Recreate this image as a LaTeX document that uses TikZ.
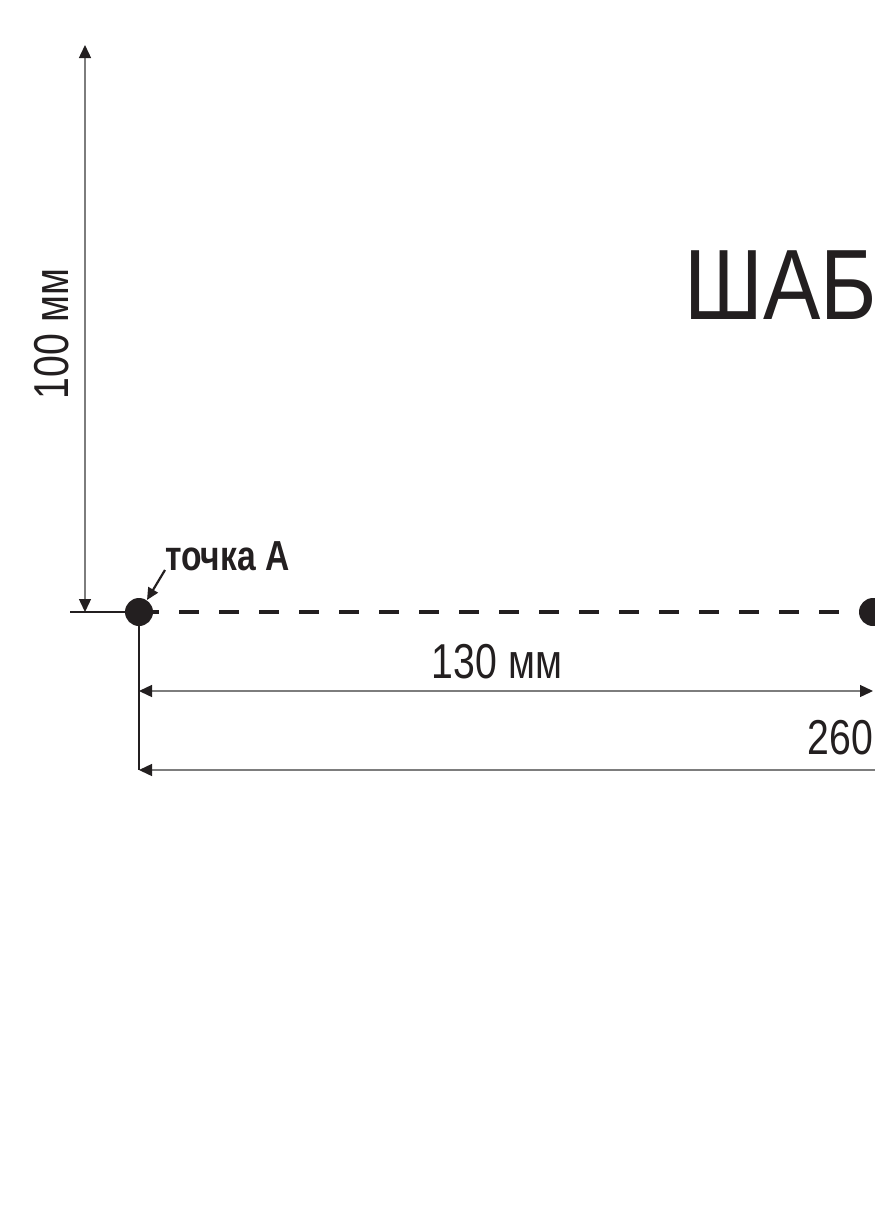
\documentclass[tikz,border=0pt]{standalone}
\usepackage{fontspec}
\setmainfont{Liberation Sans}[FakeStretch=0.8]
\newfontfamily\titlefont{Liberation Sans}[FakeStretch=0.86]
\usetikzlibrary{arrows.meta}
\definecolor{ink}{RGB}{35,31,32}
\definecolor{dimgray}{RGB}{125,125,125}
\tikzset{
	dimline/.style={draw=dimgray,line width=1.4pt,{Triangle[length=13pt,width=12pt,color=ink]}-{Triangle[length=13pt,width=12pt,color=ink]}},
	extline/.style={draw=ink,line width=1.2pt},
	dimlabel/.style={inner sep=0pt,anchor=base,text=ink,font=\fontsize{49}{54}\selectfont}
}
\begin{document}
\begin{tikzpicture}[x=1pt,y=-1pt,line join=round,line cap=butt]
	\useasboundingbox (0,0) rectangle (875,1227);
	\clip (0,0) rectangle (875,1227);
	\path
	(139,612) coordinate (A)
	(873,612) coordinate (B)
	(70,612) coordinate (L)
	(85,45) coordinate (V)
	(85,612) coordinate (V')
	(139,770) coordinate (E)
	(139,691) coordinate (H)
	(873,691) coordinate (H')
	(139,770) coordinate (G)
	(1607,770) coordinate (G')
	(147,600) coordinate (tip)
	;
	% dimension and extension lines
	\draw[extline] (L)--(A)--(E);
	\draw[dimline] (V)--(V');
	\draw[dimline] (H)--(H');
	\draw[dimline] (G)--(G');
	% base line between the points
	\draw[ink,line width=4.5pt,dash pattern=on 20pt off 20pt] (A)--(B);
	\fill[ink] (A) circle (14pt);
	\fill[ink] (B) circle (14pt);
	% labels
	\node[inner sep=0pt,anchor=base west,text=ink,font=\bfseries\fontsize{42}{46}\selectfont] (lblA) at (165,570) {точка А};
	\draw[ink,line width=2.2pt,-{Triangle[length=12pt,width=11pt]}] (lblA.base west)--(tip);
	\node[dimlabel] (lbl130) at (497,678) {130 мм};
	\node[dimlabel] (lbl260) at (873,754) {260 мм};
	\node[dimlabel,rotate=90] (lbl100) at (68,334) {100 мм};
	\node[inner sep=0pt,anchor=base west,text=ink,font=\titlefont\fontsize{100}{110}\selectfont] (title) at (684,319) {ШАБЛОН};
\end{tikzpicture}
\end{document}
